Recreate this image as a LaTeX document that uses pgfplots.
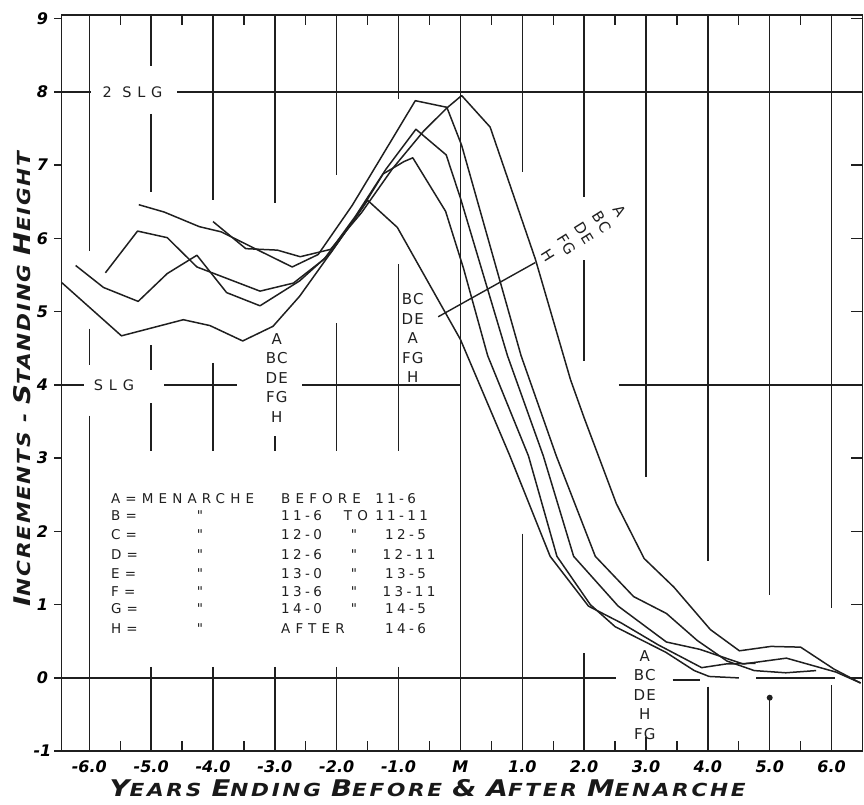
\documentclass[border=0pt]{standalone}
\usepackage{fontspec}
\setmainfont{DejaVu Sans}
\newfontfamily\lett[LetterSpace=38]{DejaVu Sans}
\newfontfamily\numfont[LetterSpace=25]{DejaVu Sans}
\newfontfamily\slgfont[LetterSpace=40]{DejaVu Sans}
\newfontfamily\lblfont[LetterSpace=8]{DejaVu Sans}
\newfontfamily\xtitlefont[LetterSpace=15,FakeStretch=1.2]{DejaVu Sans}
\newfontfamily\ytitlefont[LetterSpace=10,FakeStretch=1.2]{DejaVu Sans}
\usepackage{pgfplots}
\pgfplotsset{compat=1.18}
\newcommand{\bigL}[1]{{\fontsize{23}{23}\selectfont #1}}
\begin{document}
\begin{tikzpicture}[
  crv/.style={line width=1.5pt, black!88, line join=round},
  grd/.style={line width=1.4pt, black!88},
  lbl/.style={font=\lblfont\fontsize{15}{19.5}\selectfont, align=center, inner sep=0pt, text=black!88},
  leg/.style={font=\lett\fontsize{13.5}{13.5}\selectfont, inner sep=0pt, text=black!88},
  num/.style={font=\numfont\fontsize{13.5}{13.5}\selectfont, inner sep=0pt, text=black!88, anchor=west},
]
\begin{axis}[
  scale only axis, width=801.6pt, height=736.7pt,
  xmin=-6.45, xmax=6.5, ymin=-1, ymax=9.05,
  axis line style={line width=1.7pt, black!88},
  major tick length=0pt, minor tick length=0pt,
  xtick={-6,-5,-4,-3,-2,-1,0,1,2,3,4,5,6},
  xticklabels={-6.0,-5.0,-4.0,-3.0,-2.0,-1.0,M,1.0,2.0,3.0,4.0,5.0,6.0},
  ytick={-1,0,1,2,3,4,5,6,7,8,9},
  yticklabels={-1,0,1,2,3,4,5,6,7,8,9},
  xticklabel style={anchor=center, yshift=-16pt, font=\fontsize{16}{16}\selectfont\bfseries\itshape},
  yticklabel style={anchor=center, xshift=-19pt, font=\fontsize{16}{16}\selectfont\bfseries\itshape},
  clip=false,
]
% ticks
\pgfplotsinvokeforeach{-1,0,1,2,3,4,5,6,7,8,9}{
  \draw[grd] (axis cs:-6.45,#1) -- ++(-7pt,0pt);
  \draw[grd] (axis cs:6.5,#1) -- ++(-12pt,0pt);
}
\pgfplotsinvokeforeach{-5.5,-4.5,-3.5,-2.5,-1.5,-0.5,0.5,1.5,2.5,3.5,4.5,5.5}{
  \draw[grd] (axis cs:#1,-1) -- ++(0pt,10pt);
  \draw[grd] (axis cs:#1,9.05) -- ++(0pt,-10pt);
}
% vertical grid segments
\draw[grd] (axis cs:-6,9.05) -- (axis cs:-6,5.83);
\draw[grd] (axis cs:-6,4.77) -- (axis cs:-6,4.27);
\draw[grd] (axis cs:-6,3.58) -- (axis cs:-6,-1);
\draw[grd] (axis cs:-5,9.05) -- (axis cs:-5,8.35);
\draw[grd] (axis cs:-5,7.7) -- (axis cs:-5,6.63);
\draw[grd] (axis cs:-5,4.54) -- (axis cs:-5,4.2);
\draw[grd] (axis cs:-5,3.75) -- (axis cs:-5,3.1);
\draw[grd] (axis cs:-5,0.15) -- (axis cs:-5,-1);
\draw[grd] (axis cs:-4,9.05) -- (axis cs:-4,6.52);
\draw[grd] (axis cs:-4,4.3) -- (axis cs:-4,3.1);
\draw[grd] (axis cs:-4,0.15) -- (axis cs:-4,-1);
\draw[grd] (axis cs:-3,9.05) -- (axis cs:-3,6.48);
\draw[grd] (axis cs:-3,3.3) -- (axis cs:-3,3.1);
\draw[grd] (axis cs:-3,0.15) -- (axis cs:-3,-1);
\draw[grd] (axis cs:-2,9.05) -- (axis cs:-2,6.86);
\draw[grd] (axis cs:-2,4.84) -- (axis cs:-2,3.1);
\draw[grd] (axis cs:-2,0.15) -- (axis cs:-2,-1);
\draw[grd] (axis cs:-1,9.05) -- (axis cs:-1,7.9);
\draw[grd] (axis cs:-1,5.65) -- (axis cs:-1,3.1);
\draw[grd] (axis cs:-1,0.15) -- (axis cs:-1,-1);
\draw[grd] (axis cs:0,9.05) -- (axis cs:0,-1);
\draw[grd] (axis cs:1,9.05) -- (axis cs:1,6.9);
\draw[grd] (axis cs:1,1.97) -- (axis cs:1,-1);
\draw[grd] (axis cs:2,9.05) -- (axis cs:2,6.56);
\draw[grd] (axis cs:2,5.7) -- (axis cs:2,4.33);
\draw[grd] (axis cs:2,0.34) -- (axis cs:2,-1);
\draw[grd] (axis cs:3,9.05) -- (axis cs:3,2.74);
\draw[grd] (axis cs:3,-0.8) -- (axis cs:3,-1);
\draw[grd] (axis cs:4,9.05) -- (axis cs:4,1.6);
\draw[grd] (axis cs:4,-0.12) -- (axis cs:4,-1);
\draw[grd] (axis cs:5,9.05) -- (axis cs:5,1.13);
\draw[grd] (axis cs:5,-0.27) -- (axis cs:5,-1);
\fill[black!88] (axis cs:5,-0.27) circle (3pt);
\draw[grd] (axis cs:6,9.05) -- (axis cs:6,0.95);
\draw[grd] (axis cs:6,-0.1) -- (axis cs:6,-1);
% horizontal lines
\draw[grd] (axis cs:-6.45,8) -- (axis cs:-5.98,8);
\draw[grd] (axis cs:-4.58,8) -- (axis cs:6.5,8);
\draw[grd] (axis cs:-6.45,4) -- (axis cs:-6.08,4);
\draw[grd] (axis cs:-4.79,4) -- (axis cs:-3.62,4);
\draw[grd] (axis cs:-2.56,4) -- (axis cs:0,4);
\draw[grd] (axis cs:2.56,4) -- (axis cs:6.5,4);
\draw[grd] (axis cs:-6.45,0) -- (axis cs:2.51,0);
\draw[grd] (axis cs:3.43,-0.03) -- (axis cs:3.87,-0.03);
\draw[grd] (axis cs:4.78,0) -- (axis cs:6.05,0);
\draw[grd] (axis cs:-0.36,4.93) -- (axis cs:1.21,5.67);
% curves
% A
\addplot[crv] coordinates {(-4.0,6.23) (-3.47,5.86) (-2.96,5.84) (-2.59,5.75) (-2.1,5.85) (-1.6,6.35) (-1.1,6.95) (-0.6,7.46) (-0.22,7.78) (0.02,7.95) (0.48,7.52) (1.21,5.72) (1.78,4.07) (2.0,3.55) (2.52,2.38) (2.97,1.63) (3.45,1.24) (4.04,0.66) (4.51,0.37) (5.02,0.43) (5.5,0.42) (6.04,0.12) (6.47,-0.07)};
% BC
\addplot[crv] coordinates {(-5.2,6.46) (-4.79,6.36) (-4.22,6.16) (-3.87,6.09) (-2.72,5.61) (-2.3,5.78) (-1.75,6.45) (-1.25,7.15) (-0.73,7.88) (-0.22,7.79) (0.02,7.27) (0.98,4.40) (1.55,3.03) (2.18,1.66) (2.8,1.11) (3.33,0.88) (3.83,0.51) (4.31,0.23) (4.75,0.1) (5.26,0.07) (5.75,0.1)};
% DE
\addplot[crv] coordinates {(-5.74,5.53) (-5.22,6.10) (-4.74,6.01) (-4.26,5.61) (-3.24,5.28) (-2.70,5.39) (-2.2,5.72) (-1.7,6.3) (-1.2,6.95) (-0.72,7.49) (-0.23,7.14) (0.0,6.55) (0.76,4.40) (1.34,3.03) (1.83,1.66) (2.55,0.98) (3.33,0.49) (3.87,0.39) (4.57,0.19) (5.27,0.27) (6.07,0.08) (6.47,-0.07)};
% FG
\addplot[crv] coordinates {(-6.22,5.63) (-5.77,5.33) (-5.21,5.14) (-4.74,5.52) (-4.26,5.77) (-3.78,5.26) (-3.24,5.08) (-2.6,5.42) (-2.1,5.8) (-1.6,6.4) (-1.25,6.88) (-0.91,7.05) (-0.77,7.10) (-0.24,6.37) (0.05,5.59) (0.44,4.40) (1.10,3.03) (1.56,1.66) (2.1,1.0) (2.5,0.70) (3.32,0.35) (3.78,0.10) (4.02,0.02) (4.5,0.0)};
% H
\addplot[crv] coordinates {(-6.45,5.40) (-5.48,4.67) (-4.48,4.89) (-4.05,4.81) (-3.52,4.60) (-3.03,4.80) (-2.6,5.21) (-2.1,5.8) (-1.5,6.52) (-1.02,6.15) (0.0,4.62) (0.80,3.03) (1.45,1.66) (2.07,0.98) (2.6,0.75) (3.2,0.45) (3.9,0.14) (4.29,0.19) (4.77,0.2)};
% curve labels
\node[lbl, font=\slgfont\fontsize{14.5}{19.5}\selectfont] at (axis cs:-5.3,8) {2 SLG};
\node[lbl, font=\slgfont\fontsize{14.5}{19.5}\selectfont] at (axis cs:-5.6,4) {SLG};
\node[lbl] at (axis cs:-2.97,4.10) {A\\BC\\DE\\FG\\H};
\node[lbl] at (axis cs:-0.77,4.64) {BC\\DE\\A\\FG\\H};
\node[lbl] at (axis cs:2.98,-0.23) {A\\BC\\DE\\H\\FG};
\node[lbl, rotate=-58, font=\lblfont\fontsize{15}{21}\selectfont] at (axis cs:2.0,6.07) {A\\BC\\DE\\FG\\H};
% legend
\node[leg, anchor=west] at (axis cs:-5.65,2.45) {A=MENARCHE};
\node[leg, anchor=west] at (axis cs:-2.90,2.45) {BEFORE};
\node[num] at (axis cs:-1.38,2.45) {11-6};
\node[leg, anchor=west] at (axis cs:-5.65,2.21) {B=};
\node[leg] at (axis cs:-4.21,2.21) {"};
\node[num] at (axis cs:-2.90,2.21) {11-6};
\node[leg] at (axis cs:-1.69,2.21) {TO};
\node[num] at (axis cs:-1.38,2.21) {11-11};
\node[leg, anchor=west] at (axis cs:-5.65,1.96) {C=};
\node[leg] at (axis cs:-4.21,1.96) {"};
\node[num] at (axis cs:-2.90,1.96) {12-0};
\node[leg] at (axis cs:-1.72,1.96) {"};
\node[num] at (axis cs:-1.22,1.96) {12-5};
\node[leg, anchor=west] at (axis cs:-5.65,1.69) {D=};
\node[leg] at (axis cs:-4.21,1.69) {"};
\node[num] at (axis cs:-2.90,1.69) {12-6};
\node[leg] at (axis cs:-1.72,1.69) {"};
\node[num] at (axis cs:-1.26,1.69) {12-11};
\node[leg, anchor=west] at (axis cs:-5.65,1.43) {E=};
\node[leg] at (axis cs:-4.21,1.43) {"};
\node[num] at (axis cs:-2.90,1.43) {13-0};
\node[leg] at (axis cs:-1.72,1.43) {"};
\node[num] at (axis cs:-1.22,1.43) {13-5};
\node[leg, anchor=west] at (axis cs:-5.65,1.18) {F=};
\node[leg] at (axis cs:-4.21,1.18) {"};
\node[num] at (axis cs:-2.90,1.18) {13-6};
\node[leg] at (axis cs:-1.72,1.18) {"};
\node[num] at (axis cs:-1.26,1.18) {13-11};
\node[leg, anchor=west] at (axis cs:-5.65,0.94) {G=};
\node[leg] at (axis cs:-4.21,0.94) {"};
\node[num] at (axis cs:-2.90,0.94) {14-0};
\node[leg] at (axis cs:-1.72,0.94) {"};
\node[num] at (axis cs:-1.22,0.94) {14-5};
\node[leg, anchor=west] at (axis cs:-5.65,0.68) {H=};
\node[leg] at (axis cs:-4.21,0.68) {"};
\node[leg, anchor=west] at (axis cs:-2.90,0.68) {AFTER};
\node[num] at (axis cs:-1.22,0.68) {14-6};
% axis titles
\node[inner sep=0pt, text=black!90, font=\xtitlefont\bfseries\itshape\fontsize{18}{18}\selectfont] at (axis cs:-0.53,-1.50)
  {\bigL{Y}EARS \bigL{E}NDING \bigL{B}EFORE \bigL{\&} \bigL{A}FTER \bigL{M}ENARCHE};
\node[inner sep=0pt, rotate=90, text=black!90, font=\ytitlefont\bfseries\itshape\fontsize{18}{18}\selectfont] at (axis cs:-7.08,4.08)
  {\bigL{I}NCREMENTS - \bigL{S}TANDING \bigL{H}EIGHT};
\end{axis}
\pgfresetboundingbox
\path ([xshift=-61.5pt,yshift=-53.5pt]current axis.south west) rectangle ([xshift=1.5pt,yshift=15pt]current axis.north east);
\end{tikzpicture}
\end{document}
